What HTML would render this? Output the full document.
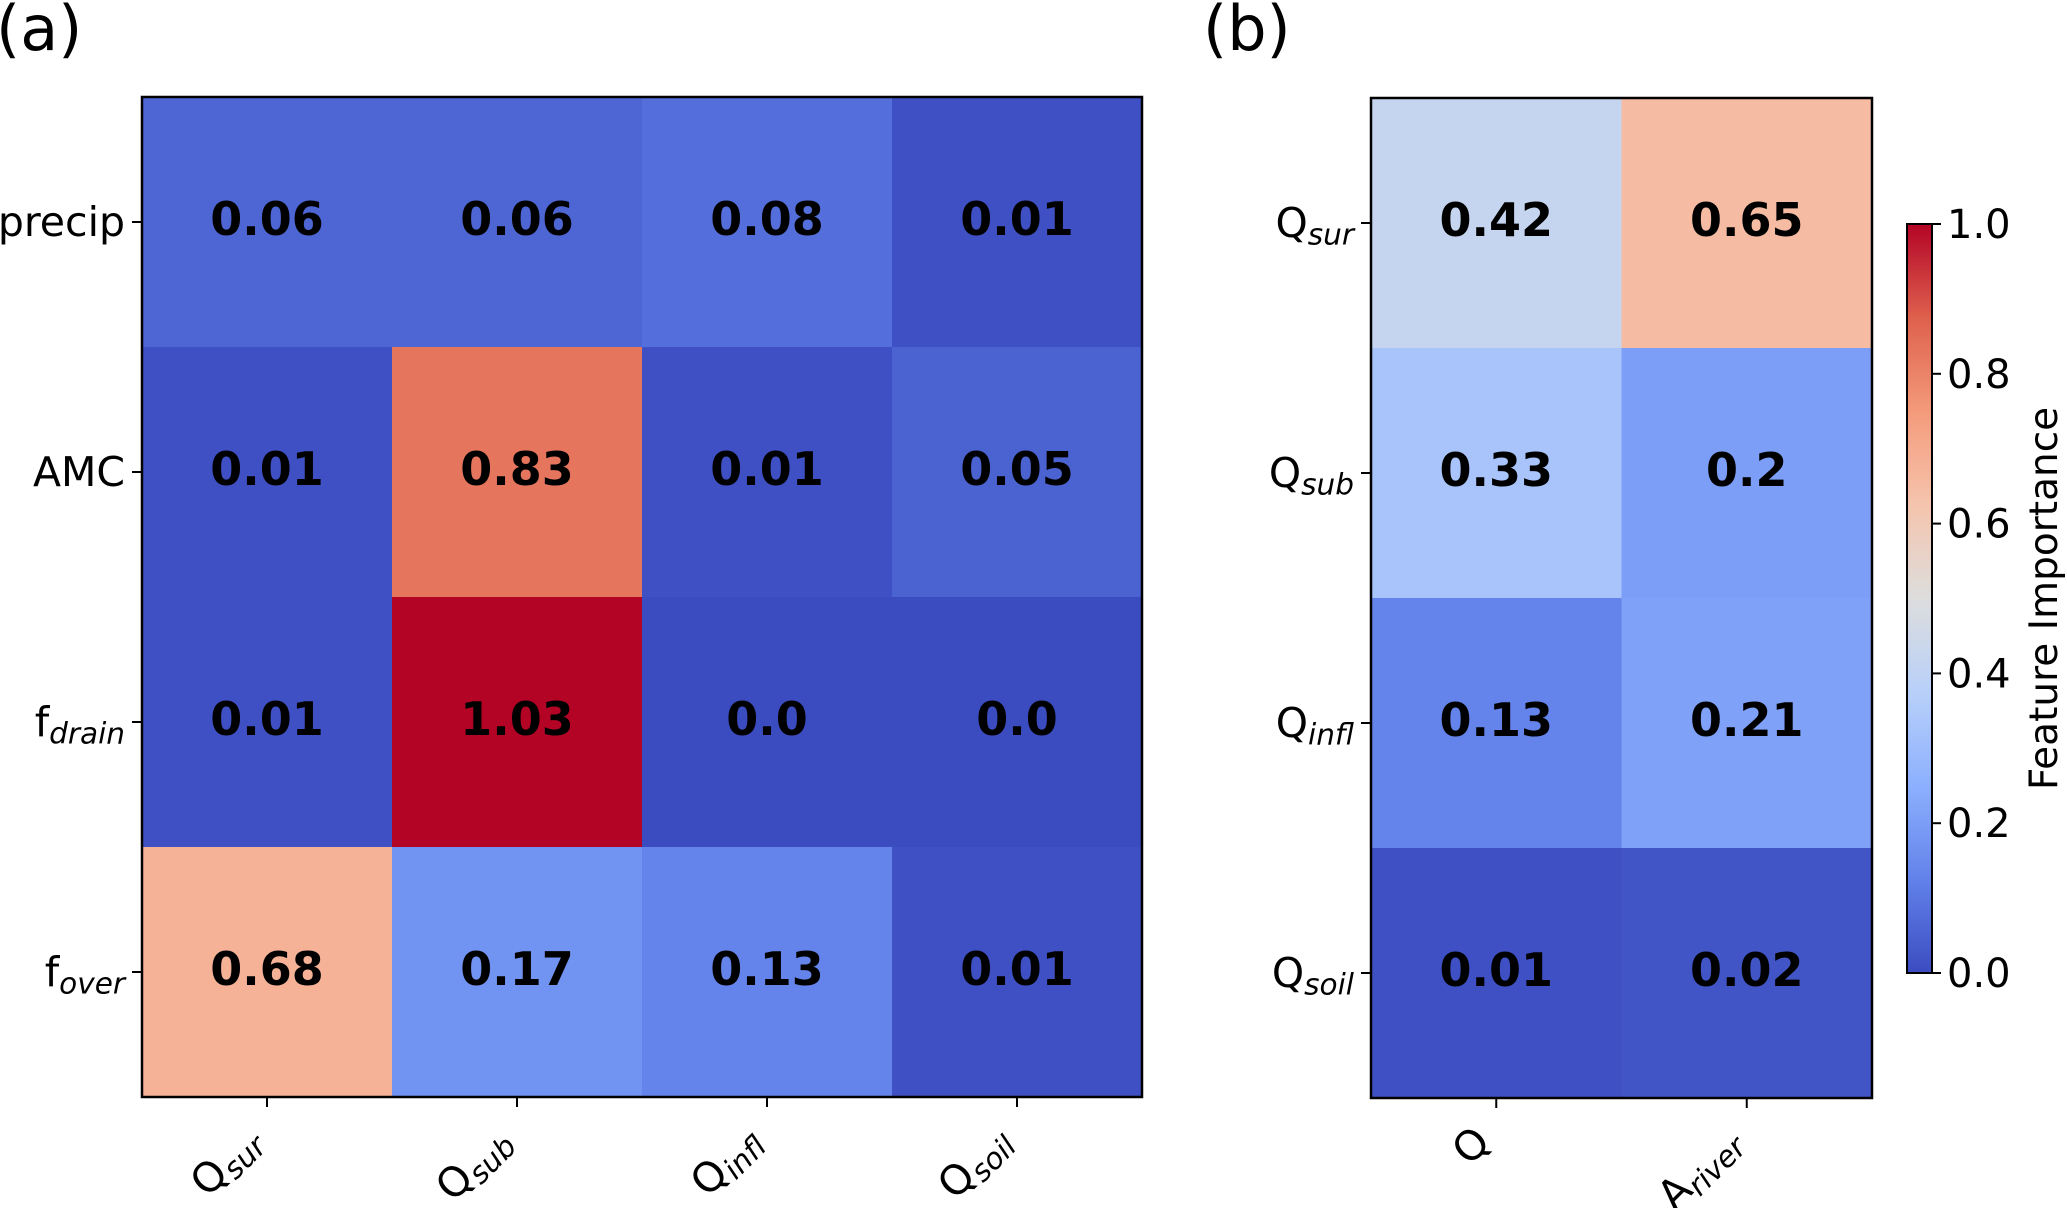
<!DOCTYPE html>
<html><head><meta charset="utf-8"><style>
html,body{margin:0;padding:0;background:#fff}
svg{display:block;font-family:"DejaVu Sans","Liberation Sans",sans-serif}
</style></head><body>
<svg id="fig" width="2067" height="1208" viewBox="0 0 2067 1208">
<defs><linearGradient id="cbgrad" x1="0" y1="1" x2="0" y2="0"></linearGradient></defs>
<g id="layer"></g>
</svg>
<script>
const rowsA = ["precip","AMC","f|drain","f|over"];
const colsA = ["Q|sur","Q|sub","Q|infl","Q|soil"];
const valuesA = [
  [0.06,0.06,0.08,0.01],
  [0.01,0.83,0.01,0.05],
  [0.01,1.03,0.0,0.0],
  [0.68,0.17,0.13,0.01]
];
const labelsA = [
  ["0.06","0.06","0.08","0.01"],
  ["0.01","0.83","0.01","0.05"],
  ["0.01","1.03","0.0","0.0"],
  ["0.68","0.17","0.13","0.01"]
];
const rowsB = ["Q|sur","Q|sub","Q|infl","Q|soil"];
const colsB = ["Q","A|river"];
const valuesB = [[0.42,0.65],[0.33,0.2],[0.13,0.21],[0.01,0.02]];
const labelsB = [["0.42","0.65"],["0.33","0.2"],["0.13","0.21"],["0.01","0.02"]];
const cbTicks = [0,0.2,0.4,0.6,0.8,1.0];
const cbTickLabels = ["0.0","0.2","0.4","0.6","0.8","1.0"];

const NS="http://www.w3.org/2000/svg";
const layer=document.getElementById('layer');
function mk(tag,attrs,parent){const e=document.createElementNS(NS,tag);for(const k in attrs)e.setAttribute(k,attrs[k]);(parent||layer).appendChild(e);return e;}
const cw=[[0,59,76,192],[0.125,98,130,234],[0.25,141,176,254],[0.375,184,208,249],[0.5,221,221,221],[0.625,245,196,173],[0.75,244,154,123],[0.875,222,96,77],[1,180,4,38]];
function coolwarm(v){v=Math.max(0,Math.min(1,v));for(let i=0;i<cw.length-1;i++){const a=cw[i],b=cw[i+1];if(v<=b[0]){const t=(v-a[0])/(b[0]-a[0]);return `rgb(${Math.round(a[1]+t*(b[1]-a[1]))},${Math.round(a[2]+t*(b[2]-a[2]))},${Math.round(a[3]+t*(b[3]-a[3]))})`;}}return 'rgb(180,4,38)';}
function addLabel(t,label,size){const p=label.split('|');t.textContent='';const m=document.createElementNS(NS,'tspan');m.textContent=p[0];t.appendChild(m);if(p[1]){const s=document.createElementNS(NS,'tspan');s.textContent=p[1];s.setAttribute('font-style','italic');s.setAttribute('font-size',size*0.72);s.setAttribute('dy',size*0.18);t.appendChild(s);}}

function heatmap(name,x0,y0,cellW,cellH,rows,cols,vals,labs){
  const g=mk('g',{});
  
  
  const xs=i=>x0+i*cellW, ys=j=>y0+j*cellH;
  vals.forEach((row,j)=>row.forEach((v,i)=>{
    const r=mk('rect',{x:xs(i),y:ys(j),width:cellW+0.5,height:cellH+0.5,fill:coolwarm(v)},g);
    
    
    const t=mk('text',{x:xs(i)+cellW/2,y:ys(j)+cellH/2+13,'text-anchor':'middle','font-size':46,'font-weight':'bold',fill:'#000'},g);
    t.textContent=labs[j][i];
    
    
  }));
  const W=cellW*cols.length,H=cellH*rows.length;
  const f=mk('rect',{x:x0,y:y0,width:W,height:H,fill:'none',stroke:'#000','stroke-width':2.5},g);
  
  
  rows.forEach((lab,j)=>{
    const cy=ys(j)+cellH/2;
    mk('line',{x1:x0-10,x2:x0,y1:cy,y2:cy,stroke:'#000','stroke-width':2},g);
    const t=mk('text',{x:x0-17,y:cy+14,'text-anchor':'end','font-size':41,fill:'#000'},g);
    addLabel(t,lab,41);
    
    
  });
  cols.forEach((lab,i)=>{
    const cx=xs(i)+cellW/2;
    mk('line',{x1:cx,x2:cx,y1:y0+H,y2:y0+H+10,stroke:'#000','stroke-width':2},g);
    const t=mk('text',{x:0,y:0,'text-anchor':'end','font-size':41,fill:'#000',transform:`translate(${cx-4},${y0+H+46}) rotate(-45)`},g);
    addLabel(t,lab,41);
    
    
  });
}
heatmap('heatmap-a',142,97,250,250,rowsA,colsA,valuesA,labelsA);
heatmap('heatmap-b',1371,98,250.5,250,rowsB,colsB,valuesB,labelsB);

const pa=mk('text',{x:-4,y:50,'font-size':62,fill:'#000'});pa.textContent='(a)';


const pb=mk('text',{x:1203,y:50,'font-size':62,fill:'#000'});pb.textContent='(b)';



const grad=document.getElementById('cbgrad');
for(let k=0;k<=16;k++){const s=document.createElementNS(NS,'stop');s.setAttribute('offset',k/16);s.setAttribute('stop-color',coolwarm(k/16));grad.appendChild(s);}
const cbX=1907,cbW=25,cbTop=224,cbBot=973;
const cy=v=>cbBot-(cbBot-cbTop)*v;
const cb=mk('rect',{x:cbX,y:cbTop,width:cbW,height:cbBot-cbTop,fill:'url(#cbgrad)',stroke:'#000','stroke-width':2});


cbTicks.forEach((v,i)=>{
  mk('line',{x1:cbX+cbW,x2:cbX+cbW+9,y1:cy(v),y2:cy(v),stroke:'#000','stroke-width':2});
  const t=mk('text',{x:cbX+cbW+15,y:cy(v)+14,'font-size':40,fill:'#000'});
  t.textContent=cbTickLabels[i];
  
  
});
const ct=mk('text',{x:0,y:0,'text-anchor':'middle','font-size':39,fill:'#000',transform:`translate(2057,${(cbTop+cbBot)/2}) rotate(-90)`});
ct.textContent='Feature Importance';


</script>
</body></html>
